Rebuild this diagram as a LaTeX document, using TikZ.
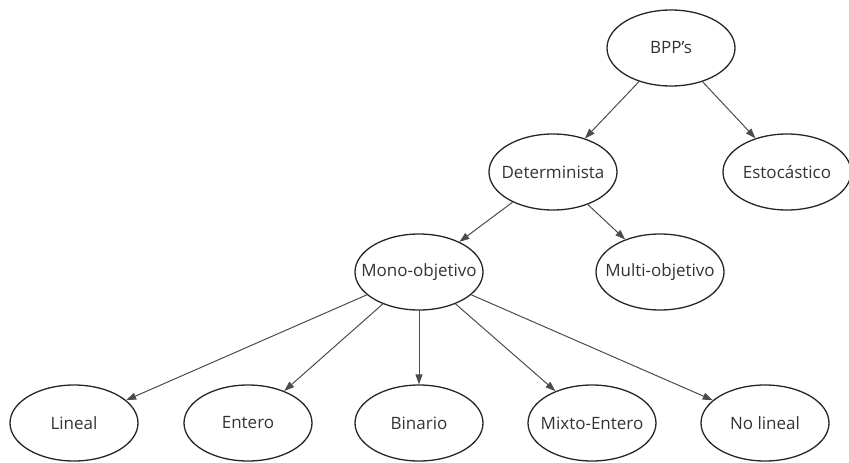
\documentclass[tikz,border=0pt]{standalone}
\usepackage{fontspec}
\setmainfont{Open Sans}
\usetikzlibrary{shapes.geometric,arrows.meta}
% label of fixed (zero) width so that every ellipse keeps the same size
\newcommand\conceptlabel[1]{\makebox[0pt]{#1}}
\begin{document}
\begin{tikzpicture}[x=1pt,y=-1pt,
  concept/.style={ellipse, draw=black!85, line width=1.3pt,
    minimum width=128pt, minimum height=76pt, inner sep=0pt,
    font=\fontsize{17}{20}\selectfont, text=black!80},
  link/.style={draw=black!70, line width=1pt,
    -{Triangle[length=10pt,width=7pt]}}]
\useasboundingbox (0,0) rectangle (849,463);

% tree levels
\node[concept] (bpp)   at (671,48)  {\conceptlabel{BPP’s}};
\node[concept] (det)   at (553,172) {\conceptlabel{Determinista}};
\node[concept] (est)   at (787,172) {\conceptlabel{Estocástico}};
\node[concept] (mono)  at (419,272) {\conceptlabel{Mono-objetivo}};
\node[concept] (multi) at (660,272) {\conceptlabel{Multi-objetivo}};
\node[concept] (lin)   at (74,423)  {\conceptlabel{Lineal}};
\node[concept] (ent)   at (248,423) {\conceptlabel{Entero}};
\node[concept] (bin)   at (419,423) {\conceptlabel{Binario}};
\node[concept] (mix)   at (592,423) {\conceptlabel{Mixto-Entero}};
\node[concept] (nol)   at (765,423) {\conceptlabel{No lineal}};

% connectors
\draw[link] (bpp) -- (det);
\draw[link] (bpp) -- (est);
\draw[link] (det) -- (mono);
\draw[link] (det) -- (multi);
\draw[link] (mono) -- (lin);
\draw[link] (mono) -- (ent);
\draw[link] (mono) -- (bin);
\draw[link] (mono) -- (mix);
\draw[link] (mono) -- (nol);
\end{tikzpicture}
\end{document}
